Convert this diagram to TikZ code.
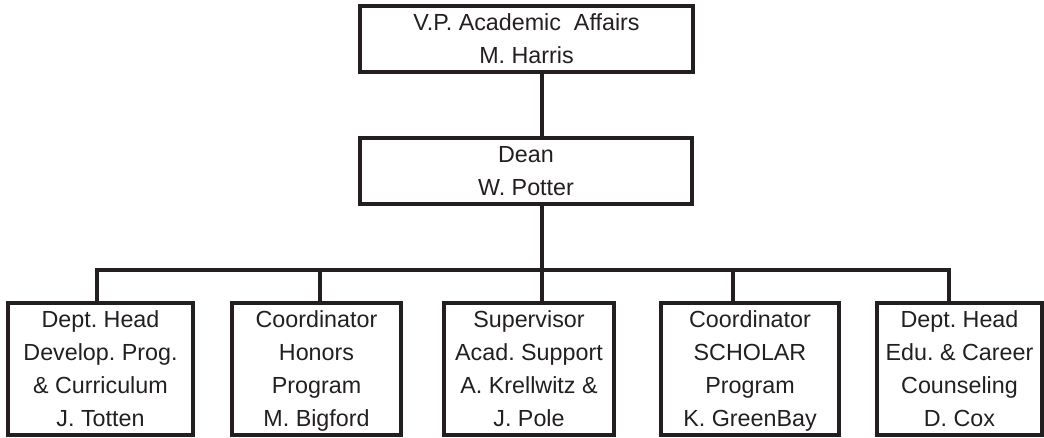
\documentclass[tikz,border=0pt]{standalone}
\usepackage{fontspec}
\setmainfont{Liberation Sans}
\usepackage{tikz}
\definecolor{ink}{RGB}{35,31,32}
\tikzset{font=\fontsize{23.3}{33}\selectfont\frenchspacing}
\tikzset{office/.style={draw=ink,text=ink,line width=3.3pt,inner sep=0pt,
    minimum height=132pt,align=center,text depth=0pt}}
\tikzset{every node/.append style={transform shape=false}}

\begin{document}
\begin{tikzpicture}[x=1pt,y=-1pt,line width=3.3pt,color=ink]
  \useasboundingbox (0,0) rectangle (1044,437);
  \node[office,minimum width=333pt,minimum height=66pt] (vp) at (526.5,39)
       {V.P. Academic~~Affairs\\M. Harris};
  \node[office,minimum width=332pt,minimum height=66pt] (dean) at (526,171)
       {Dean\\W. Potter};
  \node[office,minimum width=185pt] (devprog) at (100.5,369)
       {Dept. Head\\Develop. Prog.\\\& Curriculum\\J. Totten};
  \node[office,minimum width=169pt] (honors) at (316.5,369)
       {Coordinator\\Honors\\Program\\M. Bigford};
  \node[office,minimum width=170pt] (support) at (529,369)
       {Supervisor\\Acad. Support\\A. Krellwitz \&\\J. Pole};
  \node[office,minimum width=178pt] (scholar) at (750,369)
       {Coordinator\\SCHOLAR\\Program\\K. GreenBay};
  \node[office,minimum width=165pt] (career) at (959.5,369)
       {Dept. Head\\Edu. \& Career\\Counseling\\D. Cox};
  % taps on the bus line
  \coordinate (tap1) at (97,270);
  \coordinate (tap2) at (320,270);
  \coordinate (tap3) at (542,270);
  \coordinate (tap4) at (733,270);
  \coordinate (tap5) at (949,270);
  \draw (vp.south -| tap3) -- (dean.north -| tap3);
  \draw (dean.south -| tap3) -- (tap3 |- support.north);
  \draw (tap1 |- devprog.north) -- (tap1) -- (tap5) -- (tap5 |- career.north);
  \foreach \t/\b in {tap2/honors, tap4/scholar}{
               \draw (\t) -- (\t |- \b.north);
};
\end{tikzpicture}
\end{document}
